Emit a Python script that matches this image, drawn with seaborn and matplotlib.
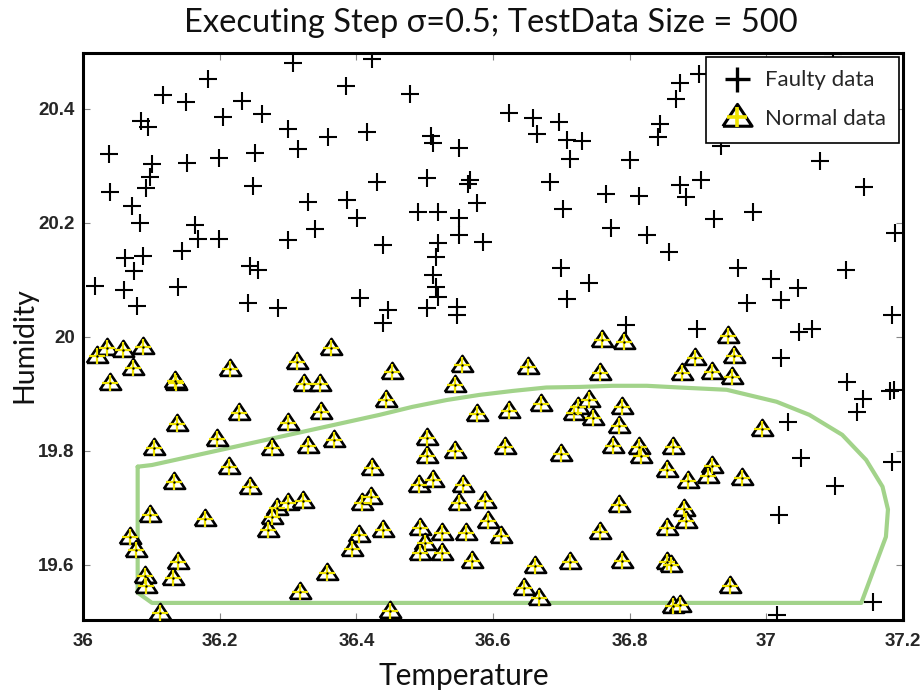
import matplotlib
matplotlib.use("Agg")
import matplotlib.pyplot as plt
from matplotlib.lines import Line2D
import pandas as pd
import seaborn as sns

# Faulty readings (temperature, humidity)
faulty_temp = [
    36.307, 36.183, 36.385, 36.117, 36.151, 36.232, 36.262, 36.205, 36.085, 36.095,
    36.300, 36.358, 36.314, 36.038, 36.251, 36.199, 36.101, 36.152, 36.098, 36.092,
    36.249, 36.039, 36.072, 36.330, 36.386, 36.401, 36.083, 36.164, 36.168, 36.199,
    36.339, 36.300, 36.145, 36.061, 36.088, 36.075, 36.244, 36.256, 36.018, 36.139,
    36.060, 36.079, 36.241, 36.285, 36.406, 36.423, 36.478, 36.624, 36.659, 36.696,
    36.415, 36.509, 36.512, 36.550, 36.664, 36.709, 36.730, 36.713, 36.801, 36.430,
    36.504, 36.566, 36.564, 36.684, 36.765, 36.576, 36.702, 36.490, 36.519, 36.550,
    36.550, 36.585, 36.439, 36.773, 36.520, 36.516, 36.512, 36.516, 36.519, 36.699,
    36.741, 36.708, 36.447, 36.439, 36.504, 36.547, 36.547, 36.794, 37.097, 36.874,
    36.902, 36.868, 36.844, 36.842, 36.934, 37.078, 36.873, 36.904, 36.882, 36.814,
    37.143, 36.923, 36.980, 36.825, 36.857, 37.189, 36.959, 37.116, 37.007, 37.047,
    36.972, 37.022, 37.184, 36.898, 37.048, 37.067, 37.022, 37.118, 37.142, 37.132,
    37.181, 37.187, 37.032, 37.051, 37.184, 37.101, 37.019, 37.156, 37.015,
]
faulty_hum = [
    20.481, 20.453, 20.440, 20.424, 20.412, 20.414, 20.391, 20.386, 20.379, 20.368,
    20.365, 20.351, 20.330, 20.321, 20.323, 20.314, 20.303, 20.305, 20.281, 20.261,
    20.265, 20.254, 20.230, 20.237, 20.240, 20.209, 20.200, 20.196, 20.172, 20.172,
    20.189, 20.170, 20.151, 20.139, 20.142, 20.116, 20.125, 20.118, 20.089, 20.088,
    20.082, 20.054, 20.060, 20.051, 20.068, 20.488, 20.426, 20.393, 20.384, 20.377,
    20.360, 20.353, 20.340, 20.332, 20.356, 20.346, 20.344, 20.312, 20.310, 20.272,
    20.279, 20.275, 20.268, 20.272, 20.251, 20.235, 20.225, 20.219, 20.219, 20.209,
    20.179, 20.167, 20.161, 20.191, 20.165, 20.140, 20.109, 20.088, 20.070, 20.121,
    20.095, 20.067, 20.047, 20.025, 20.051, 20.053, 20.039, 20.021, 20.497, 20.446,
    20.461, 20.417, 20.374, 20.351, 20.335, 20.309, 20.267, 20.275, 20.246, 20.247,
    20.263, 20.207, 20.219, 20.179, 20.149, 20.182, 20.121, 20.118, 20.102, 20.086,
    20.060, 20.065, 20.039, 20.014, 20.009, 20.014, 19.963, 19.921, 19.891, 19.868,
    19.904, 19.907, 19.851, 19.788, 19.781, 19.739, 19.688, 19.535, 19.512,
]

# Normal readings (temperature, humidity)
normal_temp = [
    36.020, 36.035, 36.058, 36.088, 36.073, 36.039, 36.136, 36.134, 36.215, 36.313,
    36.363, 36.323, 36.347, 36.228, 36.137, 36.300, 36.349, 36.104, 36.196, 36.276,
    36.329, 36.367, 36.213, 36.133, 36.244, 36.423, 36.098, 36.178, 36.284, 36.300,
    36.322, 36.276, 36.270, 36.409, 36.421, 36.069, 36.077, 36.404, 36.393, 36.139,
    36.132, 36.091, 36.092, 36.357, 36.317, 36.113, 36.452, 36.443, 36.554, 36.545,
    36.651, 36.760, 36.791, 36.756, 36.577, 36.623, 36.670, 36.718, 36.725, 36.740,
    36.746, 36.789, 36.784, 36.503, 36.504, 36.544, 36.617, 36.699, 36.775, 36.813,
    36.816, 36.863, 36.854, 36.491, 36.512, 36.556, 36.550, 36.588, 36.784, 36.439,
    36.493, 36.525, 36.560, 36.592, 36.611, 36.757, 36.854, 36.500, 36.493, 36.526,
    36.569, 36.661, 36.713, 36.789, 36.855, 36.861, 36.645, 36.668, 36.449, 36.863,
    36.874, 36.895, 36.877, 36.920, 36.944, 36.952, 36.950, 36.993, 36.885, 36.920,
    36.915, 36.965, 36.880, 36.882, 36.947,
]
normal_hum = [
    19.967, 19.981, 19.977, 19.982, 19.946, 19.919, 19.919, 19.923, 19.944, 19.956,
    19.981, 19.918, 19.918, 19.867, 19.847, 19.849, 19.868, 19.805, 19.821, 19.805,
    19.809, 19.819, 19.772, 19.746, 19.737, 19.770, 19.688, 19.681, 19.700, 19.709,
    19.711, 19.683, 19.661, 19.709, 19.718, 19.649, 19.626, 19.653, 19.628, 19.604,
    19.577, 19.581, 19.562, 19.586, 19.553, 19.516, 19.939, 19.889, 19.951, 19.916,
    19.947, 19.995, 19.991, 19.937, 19.865, 19.870, 19.882, 19.867, 19.877, 19.889,
    19.858, 19.877, 19.844, 19.823, 19.790, 19.800, 19.807, 19.795, 19.809, 19.807,
    19.790, 19.807, 19.767, 19.740, 19.749, 19.740, 19.709, 19.711, 19.704, 19.661,
    19.665, 19.656, 19.656, 19.676, 19.651, 19.658, 19.665, 19.639, 19.621, 19.621,
    19.607, 19.598, 19.605, 19.607, 19.604, 19.600, 19.560, 19.542, 19.519, 19.528,
    19.530, 19.963, 19.937, 19.939, 20.002, 19.967, 19.930, 19.839, 19.747, 19.774,
    19.756, 19.753, 19.697, 19.676, 19.563,
]

# Decision boundary learned on the normal class
boundary_temp = [
    36.080, 36.101, 36.434, 36.482, 36.532, 36.580, 36.629, 36.678, 36.727, 36.775,
    36.825, 36.873, 36.942, 37.015, 37.063, 37.111, 37.146, 37.170, 37.178, 37.175,
    37.161, 37.139, 36.101, 36.080, 36.080,
]
boundary_hum = [
    19.772, 19.775, 19.863, 19.877, 19.889, 19.898, 19.905, 19.911, 19.912, 19.914,
    19.914, 19.911, 19.907, 19.886, 19.863, 19.828, 19.784, 19.737, 19.697, 19.649,
    19.604, 19.533, 19.533, 19.551, 19.772,
]

x_ticks = [36.0, 36.2, 36.4, 36.6, 36.8, 37.0, 37.2]
x_tick_labels = ["36", "36.2", "36.4", "36.6", "36.8", "37", "37.2"]
y_ticks = [19.6, 19.8, 20.0, 20.2, 20.4]
y_tick_labels = ["19.6", "19.8", "20", "20.2", "20.4"]

title = "Executing Step σ=0.5; TestData Size = 500"

sns.set_theme(style="white")
plt.rcParams["font.family"] = ["Lato", "DejaVu Sans"]

W, H = 921, 698
fig = plt.figure(figsize=(W / 100, H / 100), dpi=100)
ax = fig.add_axes([83 / W, 1 - 620 / H, 820 / W, 567 / H])

faulty = pd.DataFrame({"Temperature": faulty_temp, "Humidity": faulty_hum})
normal = pd.DataFrame({"Temperature": normal_temp, "Humidity": normal_hum})
boundary = pd.DataFrame({"Temperature": boundary_temp, "Humidity": boundary_hum})

sns.lineplot(data=boundary, x="Temperature", y="Humidity", sort=False,
             estimator=None, color="#a2d38a", linewidth=3.0, ax=ax, zorder=1)

sns.scatterplot(data=faulty, x="Temperature", y="Humidity", marker="+",
                s=150, color="black", linewidth=1.5, ax=ax, zorder=2)

# closed triangle outline, a little wider than tall, centred below its middle
tri = [(-1.0, -0.6), (1.0, -0.6), (0.0, 0.9), (-1.0, -0.6)]
sns.scatterplot(data=normal, x="Temperature", y="Humidity", marker=tri,
                s=235, color="white", edgecolor="black", linewidth=1.9,
                ax=ax, zorder=3)
sns.scatterplot(data=normal, x="Temperature", y="Humidity", marker="+",
                s=125, color="#f0e400", linewidth=1.6, ax=ax, zorder=4)
sns.scatterplot(data=normal, x="Temperature", y="Humidity", marker="o",
                s=3, color="black", linewidth=0, ax=ax, zorder=5)

ax.set_xlim(36.0, 37.2)
ax.set_ylim(19.503, 20.498)

tick_font = dict(family=["Liberation Sans", "DejaVu Sans"], weight="bold", size=13.5)
ax.set_xticks(x_ticks)
ax.set_xticklabels(x_tick_labels, fontdict=tick_font)
ax.set_yticks(y_ticks)
ax.set_yticklabels(y_tick_labels, fontdict=tick_font)
ax.tick_params(axis="both", direction="in", length=5, width=0.8, color="#888888",
               top=True, right=True, bottom=True, left=True)
ax.tick_params(axis="x", pad=9)
ax.tick_params(axis="y", pad=6)

for side in ax.spines.values():
    side.set_visible(True)
    side.set_color("black")
    side.set_linewidth(2.2)

ax.set_xlabel("Temperature", fontsize=21.5, color="#111111")
ax.set_ylabel("Humidity", fontsize=20.5, color="#111111")
ax.xaxis.set_label_coords(0.465, -0.098)
ax.xaxis.label.set_va("center")
ax.yaxis.set_label_coords(-0.071, 0.485)
ax.yaxis.label.set_va("center")

fig.text(491 / W, 1 - 23 / H, title, ha="center", va="center", fontsize=23.5,
         color="#111111")

faulty_handle = Line2D([], [], ls="", marker="+", color="black", ms=18, mew=2.4)
tri_handle = Line2D([], [], ls="", marker=tri, markerfacecolor="white",
                    markeredgecolor="black", ms=21, mew=2.2)
cross_handle = Line2D([], [], ls="", marker="+", color="#f0e400", ms=14, mew=2.6)
leg = ax.legend([faulty_handle, (tri_handle, cross_handle)],
                ["Faulty data", "Normal data"],
                loc="upper right", bbox_to_anchor=(0.995, 0.993),
                borderaxespad=0, frameon=True, fancybox=False,
                edgecolor="black", framealpha=1, fontsize=16,
                handlelength=1.6, handletextpad=0.45, labelspacing=0.85,
                borderpad=0.6)
leg.get_frame().set_linewidth(1.2)
leg.set_zorder(10)

fig.savefig("out.png", dpi=100)
